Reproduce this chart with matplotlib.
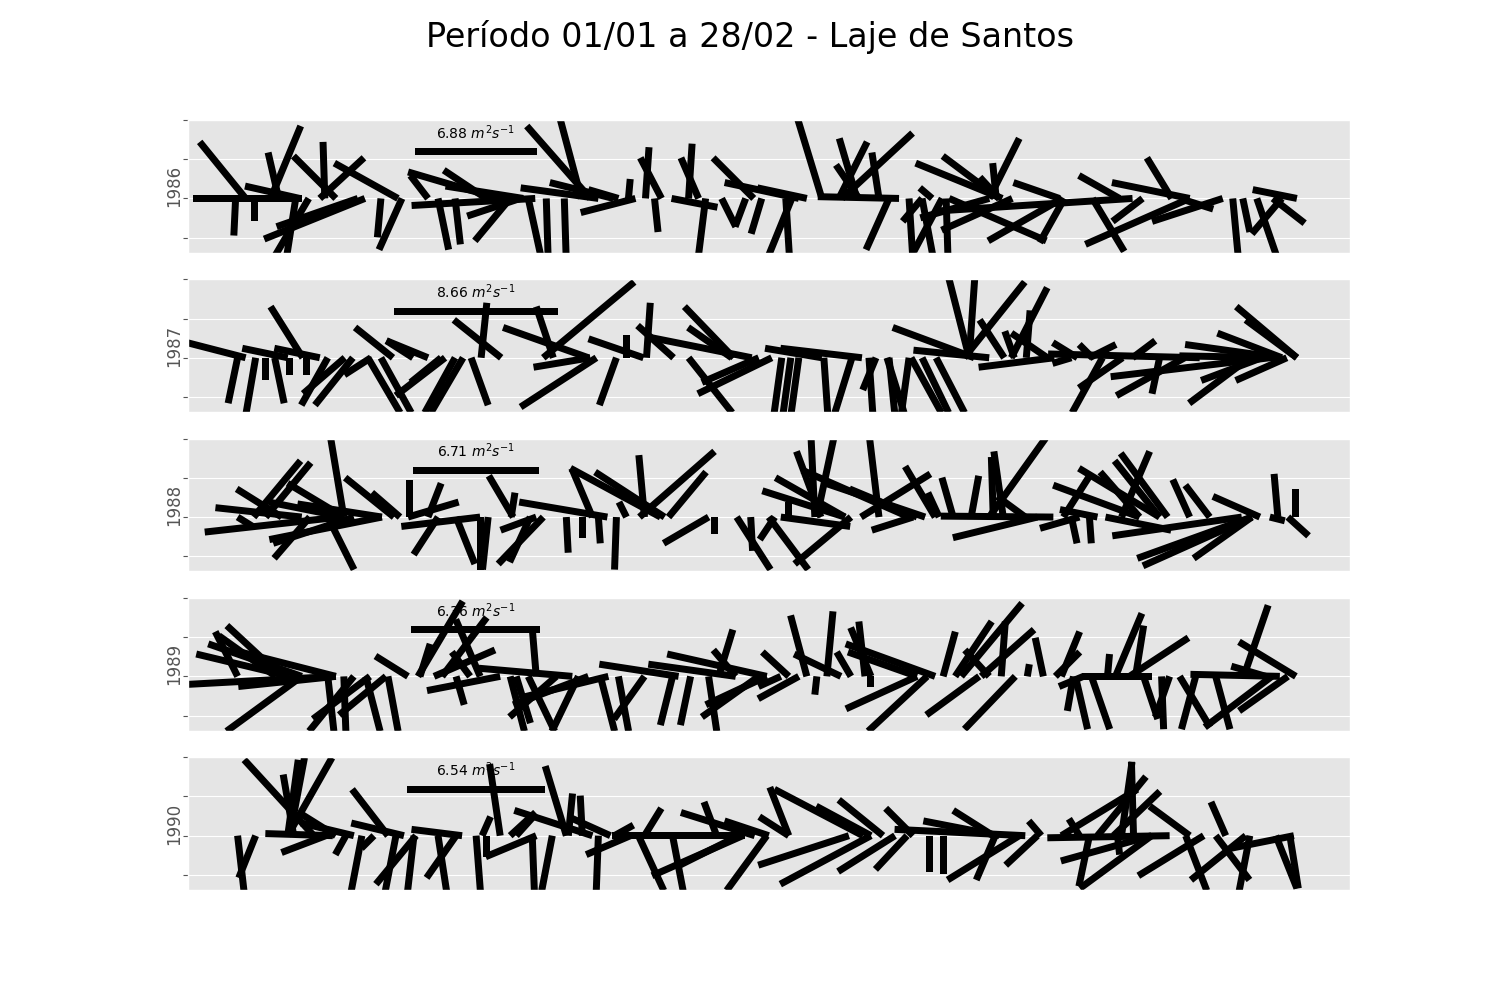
import matplotlib
matplotlib.use('Agg')
import matplotlib.pyplot as plt
import numpy as np

plt.style.use('ggplot')
plt.rcParams['font.family'] = ['DejaVu Sans']

years = ['1986', '1987', '1988', '1989', '1990']
key_values = [6.88, 8.66, 6.71, 6.36, 6.54]

# dia (0 = 01/01) e componentes u, v (m2 s-1) de cada vetor
t86 = [0.25, 2.9, 2.4, 3.35, 5.6, 4.55, 4.15, 6.85, 7.4, 6.6,
       10.5, 6.05, 8.85, 8.5, 5.4, 9.65, 10.7, 12.0, 15.5, 14.9,
       16.75, 17.35, 12.5, 13.35, 16.6, 16.1, 17.0, 17.9, 18.8, 20.1,
       19.65, 20.5, 21.25, 22.35, 21.5, 22.0, 22.85, 23.65, 23.3, 25.0,
       25.5, 28.25, 24.15, 30.5, 25.85, 27.85, 26.65, 28.65, 30.9, 30.15,
       29.85, 31.65, 33.4, 32.5, 34.5, 32.65, 33.5, 35.5, 35.0, 40.65,
       40.5, 36.65, 36.0, 37.15, 36.65, 37.85, 37.65, 40.0, 41.15, 40.0,
       40.35, 40.5, 43.5, 47.15, 43.65, 38.0, 43.75, 46.5, 50.0, 45.15,
       47.65, 50.0, 49.1, 51.65, 49.5, 52.15, 52.65, 53.35, 55.35, 54.15, 54.6]
u86 = [6.2, -2.6, -0.1, 0.0, -3.1, -0.6, 1.7, -0.1, -2.4, 2.5,
       -3.6, -2.0, -5.7, -4.6, -0.5, -0.2, -1.3, -1.0, -5.1, -2.4,
       -4.4, -7.0, 0.6, 0.3, -3.0, -2.0, 0.7, 0.1, 0.1, -3.6,
       -1.2, -4.4, -3.6, -3.1, -1.7, 0.1, 0.2, -1.2, 0.2, 0.2,
       -1.0, -2.3, 2.6, -4.2, -0.4, -0.6, 0.8, -0.6, -2.8, -1.3,
       0.2, -1.4, -1.0, 1.6, -0.4, 4.0, -1.3, -4.6, -1.3, -4.9,
       -3.2, -1.1, 0.2, -0.7, 0.6, 0.1, -1.6, -3.9, -4.0, 1.7,
       -0.2, -1.1, -2.6, -10.9, -4.2, 5.5, -1.4, -2.3, -5.9, 1.8,
       -1.7, -4.4, -1.4, -4.0, 1.9, 0.3, 0.4, 1.1, -2.5, 1.8, -1.7]
v86 = [0.0, 3.2, -2.1, -1.3, 0.7, 2.6, 4.1, 3.2, 2.4, 2.3,
       2.0, -3.4, -2.3, -1.6, -3.2, -2.2, -2.9, 1.3, 1.5, 1.6,
       0.7, -0.4, -2.9, -2.6, -1.0, -2.4, -3.2, -3.2, -3.2, 4.1,
       4.5, 0.6, 0.9, -0.8, 0.5, 1.1, 2.9, 2.3, -1.9, 3.1,
       2.3, 2.3, -0.5, 0.9, -3.2, -1.6, -1.6, -2.0, 0.6, -3.2,
       -3.2, 4.6, 3.4, 3.2, 2.6, 3.7, 1.9, 0.1, -2.9, 2.0,
       2.4, -1.3, -3.2, 0.6, -3.2, -3.2, -3.0, -1.1, -1.8, 3.4,
       2.0, 1.2, 0.9, -0.7, -2.4, -2.4, -2.5, 1.3, -2.6, -3.0,
       -1.3, 0.9, 2.3, -1.3, -0.6, -3.2, -1.9, -3.2, 0.5, -1.4, -2.0]

t87 = [2.9, 2.5, 3.4, 3.9, 4.35, 5.75, 5.0, 6.6, 5.1, 5.95,
       7.0, 7.85, 8.25, 9.15, 9.0, 10.25, 12.0, 11.25, 9.65, 12.85,
       12.65, 13.35, 13.75, 14.15, 14.65, 15.65, 20.0, 18.25, 20.4, 20.1,
       17.75, 21.4, 22.9, 21.9, 24.25, 22.75, 27.25, 27.15, 28.15, 25.0,
       29.15, 28.5, 31.65, 33.65, 29.65, 30.1, 30.5, 31.75, 33.15, 34.35,
       34.0, 35.0, 34.9, 36.0, 36.1, 36.65, 37.35, 39.0, 39.0, 39.25,
       40.0, 38.75, 41.1, 40.75, 41.85, 41.25, 42.9, 43.25, 44.4, 44.1,
       45.15, 45.0, 47.15, 45.65, 46.65, 55.35, 54.6, 54.5, 54.85, 53.0,
       53.6, 49.75, 54.0, 48.5, 50.5, 54.5, 55.35]
u87 = [-3.1, -0.5, -0.5, 0.0, 0.5, -1.7, -2.4, -2.4, 0.0, 0.0,
       -1.4, -2.2, -2.0, -1.4, 1.7, -2.0, -2.2, -1.4, 1.6, -2.6,
       -1.6, -1.6, -1.7, 0.9, 0.3, -2.5, -4.5, -0.9, -4.0, -3.0,
       4.8, -0.9, 0.2, 0.0, -1.9, -2.9, -2.6, -2.3, -5.5, 2.3,
       -3.9, -3.0, -3.0, -4.3, -0.4, -0.4, -0.4, 0.2, -0.9, -0.7,
       0.2, 0.3, 0.9, -0.4, 1.6, 1.4, 1.5, -1.1, 0.3, -4.3,
       -4.0, 3.2, 1.9, -1.3, 0.2, -0.5, -1.9, -4.0, -1.3, -1.0,
       -0.7, 1.4, 1.2, -1.6, -2.3, -2.7, -3.4, -5.0, -2.7, -3.2,
       -3.2, -3.6, -8.4, -0.4, -8.0, -5.3, -3.2]
v87 = [0.8, -2.4, -2.9, -1.2, -2.4, 2.7, 0.5, 0.5, -0.9, -0.9,
       -2.5, -1.9, -2.5, -0.9, -2.9, 1.6, 0.9, 0.9, -2.9, -2.0,
       -1.3, -2.9, -2.9, -2.5, 2.9, 2.0, 1.6, 2.7, -2.6, -0.5,
       4.0, -2.5, 2.9, 1.2, 1.7, 1.0, 2.7, 1.6, 1.1, -2.9,
       -1.9, -1.3, 0.5, 0.5, -2.9, -2.9, -2.9, -2.9, -2.9, -1.7,
       -2.9, -2.9, -2.9, -2.9, -2.9, -2.9, -2.9, 4.3, 4.3, 1.6,
       0.4, 4.0, 3.7, 2.0, 2.5, 1.4, 1.3, -0.5, 0.8, -0.3,
       0.7, 0.7, 0.9, -2.9, -1.6, 2.0, 1.3, 0.7, -1.2, -2.4,
       -1.2, -2.0, -1.0, -1.9, 0.2, 0.1, 2.7]

t88 = [7.6, 5.7, 4.7, 2.5, 3.3, 3.9, 7.8, 7.8, 7.8, 9.7,
       10.3, 10.6, 9.7, 8.3, 6.1, 7.0, 11.1, 12.0, 11.0, 14.6,
       12.5, 13.4, 14.6, 15.0, 16.25, 16.15, 17.4, 17.75, 17.1, 20.95,
       20.2, 23.6, 23.8, 22.8, 22.55, 24.0, 21.9, 18.9, 19.7, 20.5,
       21.4, 26.0, 26.3, 28.1, 27.4,
       29.3, 29.0, 33.1, 30.0, 29.6, 31.3, 31.4, 31.6, 32.8, 32.8,
       36.0, 36.8, 34.5, 36.4, 33.6, 37.3, 36.2, 38.2, 37.5, 39.1,
       40.7, 40.2, 40.0, 41.8, 43.2, 42.4, 44.5, 44.1, 45.0, 45.4,
       47.5, 48.5, 47.5, 48.9, 48.5, 46.6, 43.7, 50.0, 51.0, 53.5,
       45.8, 52.6, 53.1, 53.1, 53.1, 54.4, 55.3, 54.0, 54.9]
u88 = [-7.2, -4.6, -2.4, 0.8, 2.5, 2.4, -4.0, -3.0, -0.7, -4.5,
       -2.6, -1.5, -6.0, -4.3, -1.9, 1.4, 0.0, 0.7, 2.7, -4.2,
       -1.3, 1.0, 0.0, -0.3, -1.3, 0.2, -1.9, -2.4, -1.1, -4.7,
       -1.1, -4.8, -3.7, -0.3, 4.0, 2.0, -0.4, 0.1, 0.0, 0.1,
       -0.1, -2.4, 0.0, 0.1, 1.8,
       -0.8, 2.1, -3.0, 0.0, 3.7, -0.2, 0.9, -1.3, -3.7, -4.4,
       -5.7, -5.3, -0.5, -3.6, 3.7, -1.6, -2.2, -0.6, -0.6, 0.4,
       -0.5, -0.1, 3.0, -1.5, -6.0, -4.5, -2.1, 0.3, 0.1, -2.0,
       -4.6, -4.3, -2.1, -2.5, -2.4, 1.5, 1.4, -0.9, -1.3, -2.5,
       3.5, -6.9, -6.1, -5.8, -3.1, -0.2, 0.0, 0.8, 1.1]
v88 = [-0.8, 0.5, 1.5, -0.5, 3.0, 2.9, 0.8, 1.8, 4.2, 0.7,
       2.1, 1.3, -1.2, -1.4, -2.2, -2.8, 2.0, 1.8, 0.8, -0.5,
       -2.0, -2.5, -2.8, -2.8, 2.2, 1.3, -0.7, -2.5, -2.4, 0.8,
       2.6, 2.6, 2.4, 3.3, 3.5, 2.4, 0.8, -1.9, -1.1, -1.4,
       -2.8, -1.4, -0.9, -1.8, -2.8,
       -1.2, -2.8, -2.5, 0.8, -0.5, 4.2, 4.2, 3.5, 2.1, 1.4,
       2.5, 1.8, 4.2, 1.5, 2.3, 2.7, -0.7, 2.1, 1.3, 2.2,
       3.5, 3.2, 4.2, 1.1, 0.05, -1.1, -0.6, -1.4, -1.4, 0.4,
       1.7, 2.6, 2.4, 3.4, 3.0, 3.5, 2.2, 2.0, 1.7, 1.1,
       -0.7, -1.0, -2.2, -2.6, -2.2, 2.3, 1.5, -0.2, -1.0]

t89 = [7.4, 5.1, 5.7, 2.5, 4.7, 4.4, 7.4, 7.4, 5.7, 7.0,
       7.8, 8.3, 9.1, 8.9, 9.9, 10.0, 11.0, 11.5, 12.7, 14.6,
       11.6, 12.3, 14.1, 13.4, 15.6, 19.2, 17.4, 16.1, 16.4, 18.4,
       17.0, 19.5, 20.0, 21.0, 20.6, 21.5, 24.5, 28.9, 27.35, 26.5,
       27.35, 22.8, 24.2, 25.1, 26.0, 28.5, 28.9,
       30.5, 29.6, 30.0, 30.9, 31.9, 32.6, 31.4, 33.8, 34.1, 33.1,
       37.3, 36.4, 34.1, 36.4, 36.9, 37.7, 38.3, 38.6, 40.6, 39.6,
       40.0, 39.5, 41.3, 41.9, 42.7, 43.6, 43.3, 44.7, 44.2, 44.3,
       45.1, 45.9, 46.3, 47.3, 47.0, 48.1, 47.7, 48.6, 49.0, 49.5,
       50.3, 51.3, 54.1, 54.9, 52.7, 55.3, 54.5, 53.8]
u89 = [-7.4, -4.6, -4.6, -1.1, -2.7, -2.8, -5.1, -4.8, -3.7, 0.3,
       0.1, -2.2, -2.8, 0.7, -2.3, 0.5, -1.6, 2.2, 2.2, -1.2,
       0.5, 3.0, -0.9, 0.4, -3.6, -4.6, -0.2, 0.7, 0.7, -2.3,
       1.3, -1.3, -3.7, -4.1, 0.7, 0.5, -3.9, -4.9, -4.3, 0.7,
       -1.1, -1.5, -0.6, -0.5, 0.4, -2.8, -3.0,
       -2.0, -1.1, -1.3, -0.8, 0.3, -2.3, -0.1, -0.3, -1.0, -0.7,
       -4.4, -3.4, 0.0, -3.5, -2.9, 0.6, 1.8, 3.0, 0.2, 2.6,
       -1.2, -2.6, -2.5, 0.1, -0.4, 0.9, 1.2, -1.2, -0.3, 0.6,
       0.9, 0.1, 1.3, 0.4, 2.9, -3.4, 0.7, 0.1, -0.7, 1.5,
       -0.7, 0.7, -3.3, -2.4, 1.2, -2.8, -4.4, -1.7]
v89 = [-0.4, 1.1, 1.6, 2.2, 2.5, 2.0, 1.3, -0.5, -2.7, -2.7,
       -2.7, -2.7, -2.1, -2.7, -1.9, -2.7, 1.0, 3.7, 2.9, 2.8,
       1.6, 1.3, 1.2, -1.4, -0.7, 0.4, 2.4, -2.7, -2.3, -2.0,
       -2.7, -2.7, -1.4, -1.0, -2.7, -2.7, 0.6, 1.1, 0.6, 2.3,
       1.3, -2.1, -2.4, -2.4, -2.7, -2.0, -1.4,
       -1.1, -0.5, 1.2, 3.0, 3.2, 1.1, -0.9, 2.7, 2.4, 1.2,
       1.6, 1.2, -0.5, -1.6, -2.7, 2.2, 2.7, 3.6, 2.7, 2.3,
       1.3, -1.9, -2.6, 0.6, 1.9, 2.2, 1.2, -0.5, -1.7, -2.6,
       -2.6, 1.1, 3.1, 2.5, 1.9, 0.0, -2.1, -2.6, -2.0, -2.5,
       -2.6, -2.6, -2.5, -1.7, 3.5, 1.7, 0.1, 0.5]

t90 = [6.3, 5.1, 5.0, 5.0, 5.3, 7.4, 7.25, 8.3, 2.5, 3.4,
       6.9, 7.9, 8.7, 10.0, 10.8, 9.3, 11.4, 10.4, 11.3, 13.7,
       13.4, 12.5, 14.4, 15.6, 14.7, 17.4, 14.9, 16.1, 16.4, 20.2,
       18.9, 19.0, 19.7, 21.1, 17.2, 18.2, 22.1, 20.5, 21.3, 22.8,
       27.8, 22.5, 27.7, 27.5, 24.2, 28.3, 26.4, 29.0, 28.9,
       30.0, 33.7, 30.0, 34.1, 34.7, 36.2, 33.0, 34.1, 35.3, 35.9,
       37.0, 37.7, 40.5, 40.2, 41.8, 41.5, 40.3, 42.4, 42.6, 49.0,
       44.5, 48.1, 45.0, 48.1, 46.6, 47.2, 45.4, 46.2, 43.6, 50.0,
       51.8, 50.7, 49.8, 52.8, 51.3, 53.0, 54.3, 55.0, 55.2, 46.4]
u90 = [-3.3, 0.7, 2.1, 0.5, -0.5, -1.6, -3.2, -2.5, 0.3, -0.8,
       -2.1, -0.5, -0.5, -1.7, -2.5, -0.6, -1.9, -0.5, -0.3, -2.4,
       -1.4, 0.4, 0.2, -0.5, 0.4, -2.4, 0.0, 1.2, 0.9, -3.7,
       -1.0, 0.2, -0.1, -2.0, 0.1, -0.5, -2.1, -0.1, 0.9, 0.8,
       -6.3, 1.2, -4.3, -2.8, 0.5, -3.5, -0.6, -2.1, -1.9,
       -0.9, -4.2, -1.4, -2.6, -2.1, -1.3, -4.3, -4.3, -2.7, -1.5,
       0.0, 0.0, -3.6, -1.9, -6.2, -3.4, -0.9, -1.5, -0.6, -5.8,
       -0.5, -4.3, -0.5, -3.4, 0.5, -0.1, 2.3, 2.2, 3.6, -1.9,
       -0.7, -3.1, 1.0, -2.6, 1.6, -0.5, 1.0, 0.4, -3.0, 0.1]
v90 = [3.6, 3.7, 3.7, 3.6, 2.9, 1.0, 0.1, 0.6, -2.6, -2.0,
       -0.8, -0.9, -2.6, 2.2, 0.6, -0.6, -2.3, -2.6, -2.6, 0.3,
       -2.0, -2.6, -2.6, 3.4, 0.9, -1.0, -1.0, 1.1, 1.0, 1.2,
       3.3, 2.0, 1.9, 0.9, -2.6, -2.6, -0.9, -2.6, 0.5, 1.3,
       0.0, -2.6, -1.9, -1.4, -2.6, 1.1, 1.6, 0.7, -2.6,
       2.3, 2.2, 0.9, 1.4, 1.7, 1.3, -1.4, -2.3, -1.7, -1.6,
       -1.7, -1.8, 0.7, 1.2, 0.3, -2.1, -2.1, -1.4, 0.7, -0.1,
       0.8, -1.2, -2.4, -2.5, 3.5, 3.5, 2.8, 2.1, 2.2, 1.4,
       1.6, -1.9, -2.6, -2.1, -2.1, -2.6, -2.5, -2.5, -0.6, -0.9]

series = [(t86, u86, v86), (t87, u87, v87), (t88, u88, v88),
          (t89, u89, v89), (t90, u90, v90)]
# escala do quiver (m2 s-1 por unidade do eixo y)
scales = [2.22, 2.07, 2.09, 1.93, 1.86]

fig, axes = plt.subplots(5, 1, figsize=(15, 10))
fig.suptitle('Período 01/01 a 28/02 - Laje de Santos', fontsize=24)

for ax, year, (t, u, v), U, s in zip(axes, years, series, key_values, scales):
    t = np.array(t)
    q = ax.quiver(t, np.zeros_like(t), u, v, angles='uv', scale=s,
                  scale_units='y', width=0.006, headwidth=0,
                  headlength=0, headaxislength=0, color='k')
    ax.quiverkey(q, 0.248, 0.76, U, '%.2f $m^2s^{-1}$' % U, labelpos='N',
                 coordinates='axes', fontproperties={'size': 10})
    ax.set_xlim(0, 58)
    ax.set_ylim(-1.385, 2.0)
    ax.set_yticks([-1, 0, 1, 2])
    ax.set_yticklabels([])
    ax.set_xticks([])
    ax.set_ylabel(year, labelpad=-4)

fig.savefig('out.png', dpi=100)
